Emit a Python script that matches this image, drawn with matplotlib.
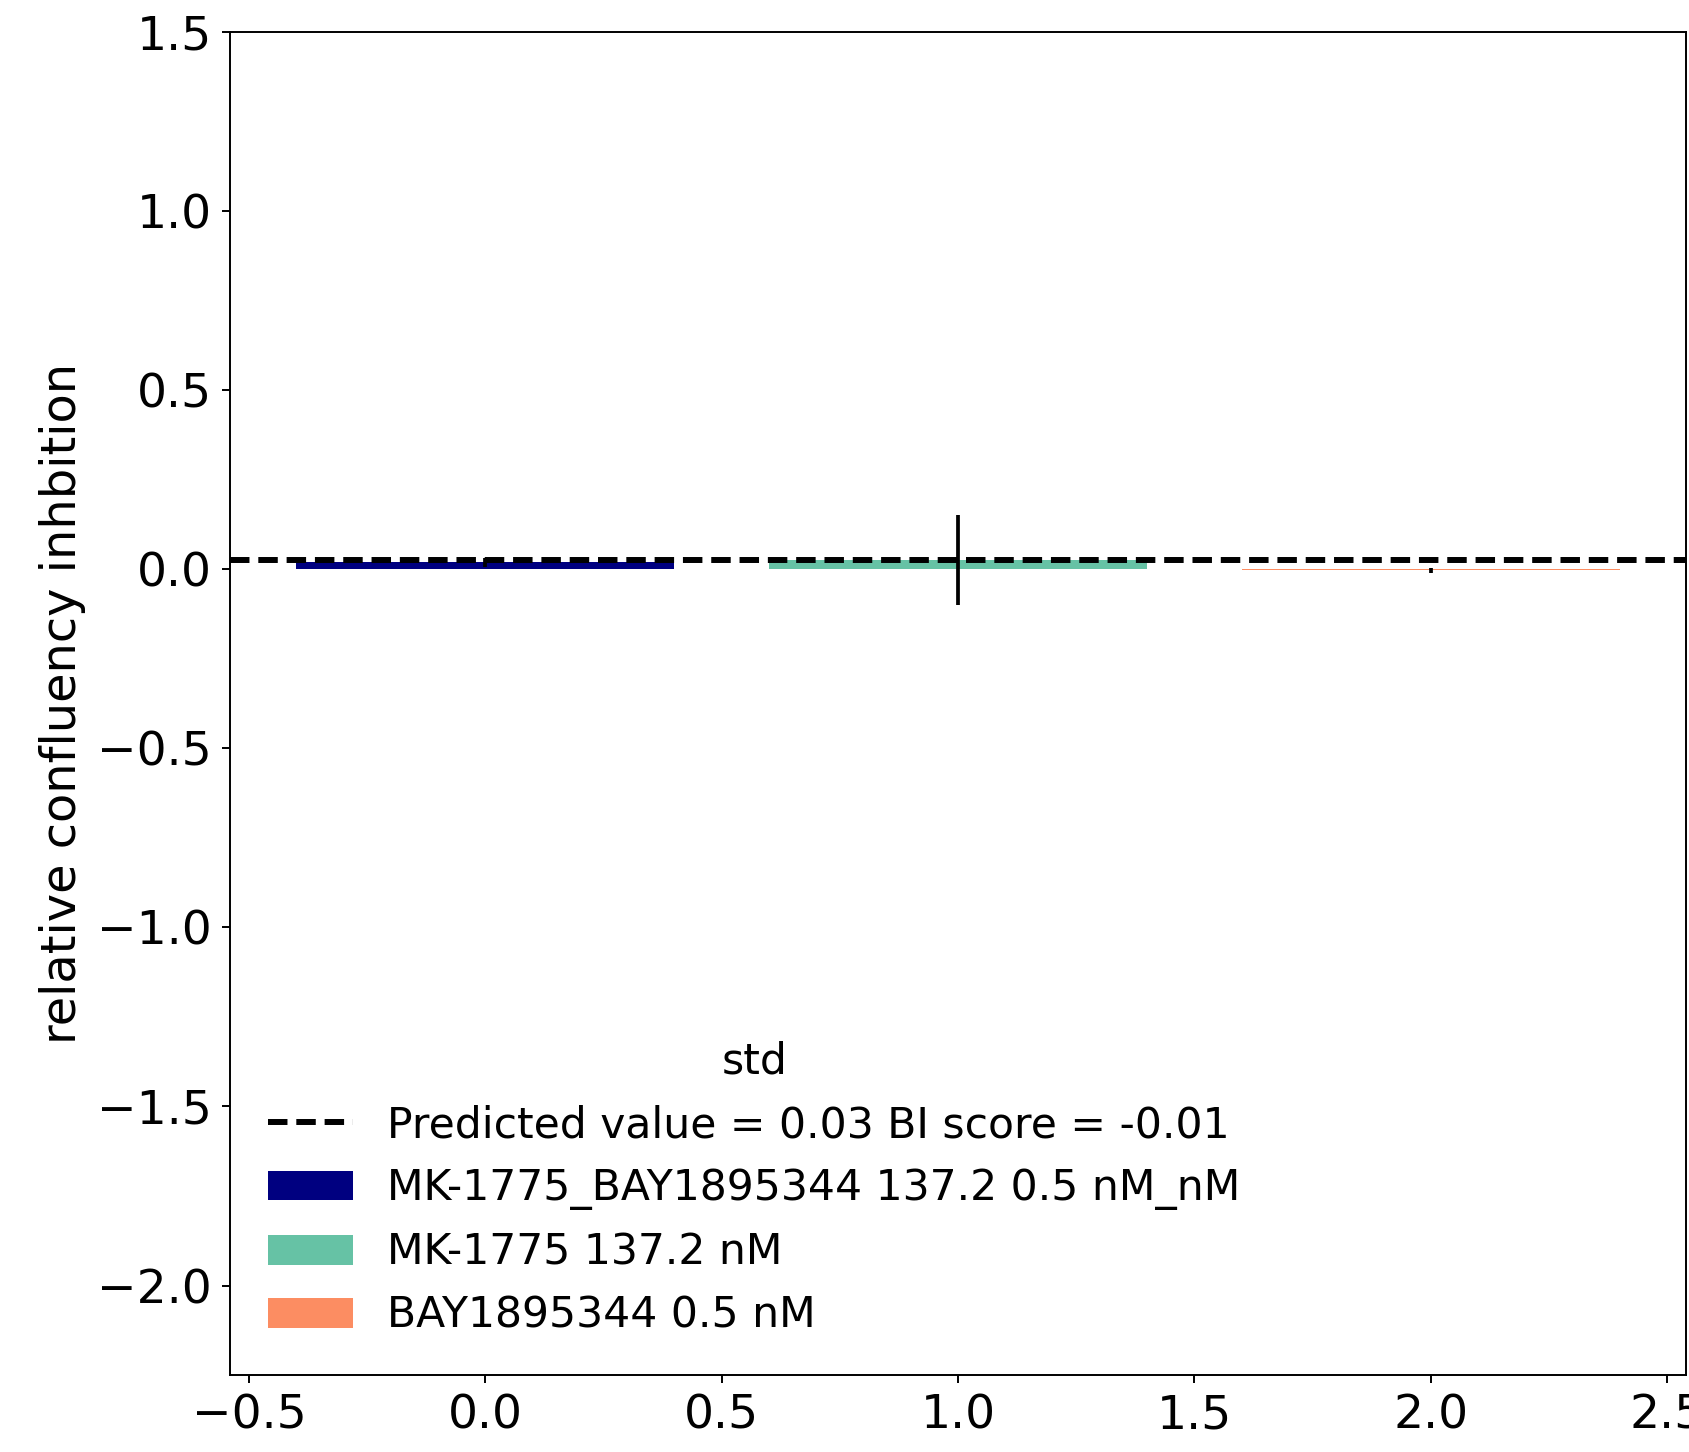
#!/usr/bin/env python3
"""Bar chart of relative confluency inhibition with predicted (Bliss) value line."""

import matplotlib
matplotlib.use("Agg")
import matplotlib.pyplot as plt

# data
labels = ["MK-1775_BAY1895344 137.2 0.5 nM_nM",
          "MK-1775 137.2 nM",
          "BAY1895344 0.5 nM"]
values = [0.020, 0.026, -0.002]
errors = [0.013, 0.125, 0.007]
colors = ["#000080", "#66c2a5", "#fc8d62"]
predicted = 0.027
pred_label = "Predicted value = 0.03 BI score = -0.01"

plt.rcParams["font.family"] = "DejaVu Sans"

fig = plt.figure(figsize=(16.89, 14.52), dpi=100)
ax = fig.add_axes([0.1362, 0.053, 0.862, 0.9248])

for i, (lab, v, e, c) in enumerate(zip(labels, values, errors, colors)):
    ax.bar(i, v, width=0.8, color=c, yerr=e, label=lab,
           error_kw=dict(ecolor="black", elinewidth=2.7, capsize=0))

ax.axhline(predicted, color="black", linewidth=4.3,
           linestyle=(0, (3.26, 1.48)), label=pred_label)

ax.set_ylim(-2.25, 1.5)
ax.set_ylabel("relative confluency inhbition", fontsize=34.5, labelpad=8)
ax.tick_params(labelsize=34, length=6.1, width=1.4, pad=7)
for sp in ax.spines.values():
    sp.set_linewidth(1.4)

ax.legend(title="std", loc="lower left", frameon=False,
          fontsize=30.6, title_fontsize=30.6)

fig.savefig("out.png", dpi=100)
